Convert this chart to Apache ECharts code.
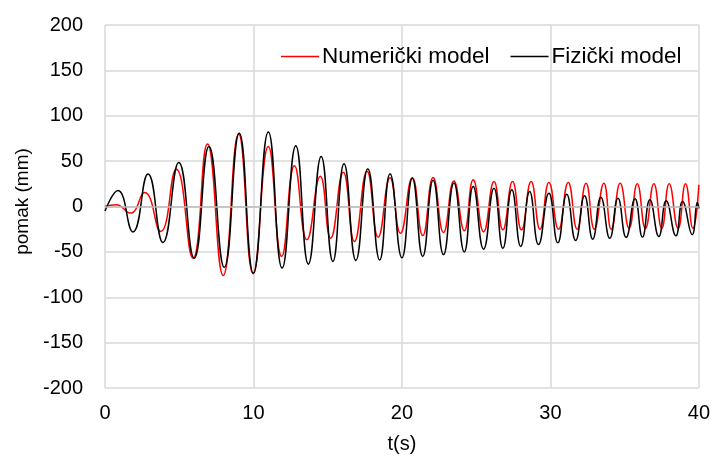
<!DOCTYPE html>
<html>
<head>
<meta charset="utf-8">
<script src="https://cdn.jsdelivr.net/npm/echarts@6/dist/echarts.min.js"></script>
<style>
html,body{margin:0;padding:0;background:#fff;}
#chart{width:713px;height:461px;}
</style>
</head>
<body>
<div id="chart"></div>
<script>
// Numerički model: time (s) and displacement (mm) at turning points
var numTime = [0, 0.75, 1.7, 2.67, 3.75, 4.8, 5.93, 6.9, 7.96, 9.0, 9.98, 11.0, 11.9, 12.76, 13.6, 14.5, 15.2, 16.05, 16.8, 17.65, 18.4, 19.2, 19.9, 20.7, 21.4, 22.1, 22.8, 23.5, 24.2, 24.8, 25.5, 26.2, 26.8, 27.45, 28.05, 28.7, 29.3, 29.9, 30.55, 31.2, 31.8, 32.4, 32.96, 33.6, 34.1, 34.7, 35.3, 35.85, 36.4, 36.97, 37.5, 38.0, 38.6, 39.1, 39.6, 40.0];
var numDisp = [0, 2, -7.3, 15.4, -27.5, 41, -57, 69, -76, 80, -74, 66, -55, 45, -36.7, 33.4, -34.9, 37.8, -38.5, 38.9, -33.8, 31.6, -29.5, 31.6, -32, 32, -28.6, 28, -26.7, 29.4, -28, 27.5, -25.7, 27.5, -25.7, 27.5, -25, 26.5, -25, 26.5, -25, 25.7, -25, 25.7, -25, 25.5, -24, 25, -24, 25, -24, 25, -24, 25, -24, 24];
// Fizički model
var fizTime = [0, 0.87, 1.88, 2.9, 3.9, 4.97, 6.0, 7.0, 8.03, 9.04, 9.99, 11.0, 11.93, 12.85, 13.7, 14.56, 15.35, 16.1, 16.9, 17.7, 18.5, 19.2, 20.0, 20.7, 21.4, 22.1, 22.8, 23.5, 24.2, 24.8, 25.5, 26.2, 26.8, 27.4, 28.0, 28.6, 29.2, 29.9, 30.5, 31.1, 31.7, 32.3, 32.85, 33.4, 34.0, 34.55, 35.1, 35.7, 36.2, 36.7, 37.3, 37.8, 38.45, 38.9, 39.55, 39.9, 40.0];
var fizDisp = [-5, 17.6, -28, 35.7, -39.6, 48.5, -56.9, 66, -67, 80.8, -73.4, 82, -67.8, 67, -63.5, 55, -60.5, 47, -59.4, 41.5, -59, 36, -56.6, 31, -55, 29, -53, 26, -50, 22, -47, 20, -46, 18.4, -44, 16.5, -42, 14.7, -40, 13.6, -37.4, 11.8, -36, 10.3, -35, 9.2, -34, 8.5, -33.7, 7.4, -33, 6.3, -32.3, 5.5, -31, 4.5, -2];
// axis ticks
var xTicks = [0, 10, 20, 30, 40];
var yTicks = [-200, -150, -100, -50, 0, 50, 100, 150, 200];

function pairs(t, v) { return t.map(function (x, i) { return [x, v[i]]; }); }

var chart = echarts.init(document.getElementById('chart'));
var font = 'Liberation Sans, Arial, sans-serif';
chart.setOption({
  animation: false,
  backgroundColor: '#fff',
  grid: { left: 105, right: 13, top: 25, bottom: 73, containLabel: false },
  legend: {
    left: 276, top: 40,
    icon: 'rect',
    itemWidth: 38, itemHeight: 1.5, itemGap: 21,
    textStyle: { fontFamily: font, fontSize: 22.5, color: '#000', padding: [0, 0, 0, -2] },
    data: ['Numerički model', 'Fizički model']
  },
  xAxis: {
    type: 'value', min: xTicks[0], max: xTicks[xTicks.length - 1], interval: 10,
    name: 't(s)', nameLocation: 'middle', nameGap: 46,
    nameTextStyle: { fontFamily: font, fontSize: 20, color: '#000' },
    axisLine: { show: false }, axisTick: { show: false },
    axisLabel: { fontFamily: font, fontSize: 20, color: '#000', margin: 15 },
    splitLine: { show: true, lineStyle: { color: '#d9d9d9', width: 1.5 } }
  },
  yAxis: {
    type: 'value', min: yTicks[0], max: yTicks[yTicks.length - 1], interval: 50,
    name: 'pomak (mm)', nameLocation: 'middle', nameGap: 68, nameRotate: 90,
    nameTextStyle: { fontFamily: font, fontSize: 19, color: '#000', padding: [0, 0, 0, 10] },
    axisLine: { show: false }, axisTick: { show: false },
    axisLabel: { fontFamily: font, fontSize: 20, color: '#000', margin: 22 },
    splitLine: { show: true, lineStyle: { color: '#d9d9d9', width: 1.5 } }
  },
  series: [
    {
      name: 'Numerički model', type: 'line', data: pairs(numTime, numDisp),
      smooth: 0.5, symbol: 'none', lineStyle: { color: '#ff0000', width: 1.5 },
      itemStyle: { color: '#ff0000' }, z: 3,
      markLine: { silent: true, symbol: 'none', label: { show: false },
        lineStyle: { color: '#bcbcbc', width: 1.5, type: 'solid' }, data: [{ yAxis: 0 }] }
    },
    {
      name: 'Fizički model', type: 'line', data: pairs(fizTime, fizDisp),
      smooth: 0.5, symbol: 'none', lineStyle: { color: '#000000', width: 1.5 },
      itemStyle: { color: '#000000' }, z: 4
    }
  ]
});
</script>
</body>
</html>
